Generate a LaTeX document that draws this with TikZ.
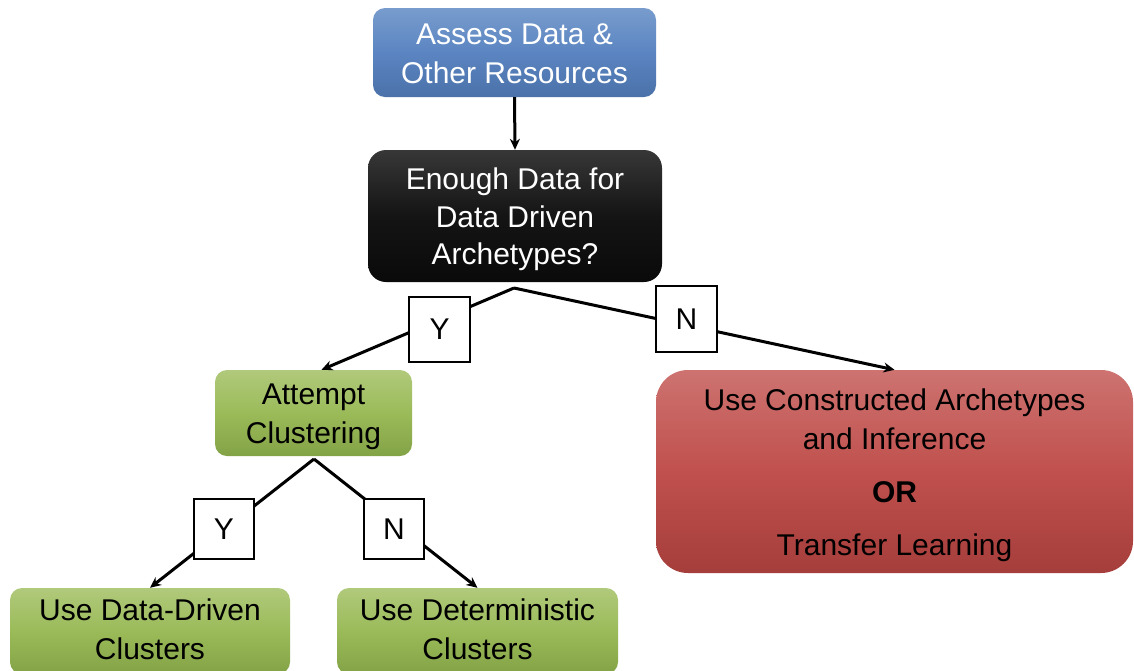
\documentclass[tikz,border=0pt]{standalone}
\usepackage{fontspec}
\setmainfont{Liberation Sans}
\usetikzlibrary{arrows.meta,calc}
\definecolor{blueT}{HTML}{95B3D7}
\definecolor{blueM}{HTML}{5B85C2}
\definecolor{blueB}{HTML}{3A5D8F}
\definecolor{blkT}{HTML}{5A5A5A}
\definecolor{blkM}{HTML}{141414}
\definecolor{greenT}{HTML}{C5D89E}
\definecolor{greenM}{HTML}{9BBB59}
\definecolor{greenB}{HTML}{6A8A34}
\definecolor{redT}{HTML}{DA9694}
\definecolor{redM}{HTML}{C0504D}
\definecolor{redB}{HTML}{8A2C2A}
\pgfdeclareverticalshading{bluesh}{100bp}{color(0bp)=(blueB); color(50bp)=(blueM); color(100bp)=(blueT)}
\pgfdeclareverticalshading{blacksh}{100bp}{color(0bp)=(black); color(50bp)=(blkM); color(100bp)=(blkT)}
\pgfdeclareverticalshading{greensh}{100bp}{color(0bp)=(greenB); color(50bp)=(greenM); color(100bp)=(greenT)}
\pgfdeclareverticalshading{redsh}{100bp}{color(0bp)=(redB); color(50bp)=(redM); color(100bp)=(redT)}
% #1 = extra height added on top (text moves down by half of it)
\newcommand{\boxtext}[2][0pt]{\raisebox{0pt}[\dimexpr\height+#1\relax][\depth]{\begin{tabular}{@{}c@{}}#2\end{tabular}}}
\tikzset{
  box/.style={inner sep=0pt, font=\fontsize{30}{39}\selectfont},
  bluebox/.style={box, rounded corners=12pt, shading=bluesh, text=white},
  blackbox/.style={box, rounded corners=18pt, shading=blacksh, text=white},
  greenbox/.style={box, rounded corners=12pt, shading=greensh, text=black},
  redbox/.style={box, rounded corners=32pt, shading=redsh, text=black},
  ynbox/.style={draw=black, line width=2pt, fill=white, inner sep=0pt, font=\fontsize{30}{36}\selectfont},
  conn/.style={line width=3pt, -{Stealth[length=11pt,width=10pt]}}
}
\begin{document}
\begin{tikzpicture}[x=1pt,y=-1pt]
\useasboundingbox (0,0) rectangle (1134,670);
\node[bluebox, minimum width=283pt, minimum height=89pt] (assess) at (514.5,52.5) {\boxtext[7pt]{Assess Data \&\\Other Resources}};
\node[blackbox, minimum width=294pt, minimum height=132pt] (enough) at (515,216) {\fontsize{30}{37.5}\selectfont\boxtext[7pt]{Enough Data for\\Data Driven\\Archetypes?}};
\node[greenbox, minimum width=197pt, minimum height=86pt] (attempt) at (313.5,413) {\boxtext[6pt]{Attempt\\Clustering}};
\node[redbox, minimum width=477pt, minimum height=203pt] (red) at (894.5,471.5) {\boxtext[7pt]{Use Constructed Archetypes\\and Inference\\[14pt]\textbf{OR}\\[14pt]Transfer Learning}};
\node[greenbox, minimum width=280pt, minimum height=86pt] (bl) at (150,631) {\boxtext[2pt]{Use Data-Driven\\Clusters}};
\node[greenbox, minimum width=281pt, minimum height=86pt] (br) at (477.5,631) {\boxtext[2pt]{Use Deterministic\\Clusters}};
\coordinate (apex1) at (514,288);
\coordinate (apex2) at (314,459);
\coordinate (t1) at ($(attempt.north)+(8,0)$);
\draw[conn] (assess.south) -- (enough.north);
\draw[conn] (apex1) -- (t1);
\draw[conn] (apex1) -- (red.north);
\draw[conn] (apex2) -- (bl.north);
\draw[conn] (apex2) -- (br.north);
\node[ynbox, minimum width=61pt, minimum height=65pt] (y1) at (439.5,329.5) {Y};
\node[ynbox, minimum width=61pt, minimum height=66pt] (n1) at (686.5,319) {N};
\node[ynbox, minimum width=60pt, minimum height=60pt] (y2) at (224,529) {Y};
\node[ynbox, minimum width=60pt, minimum height=60pt] (n2) at (394,529) {N};
\end{tikzpicture}
\end{document}
